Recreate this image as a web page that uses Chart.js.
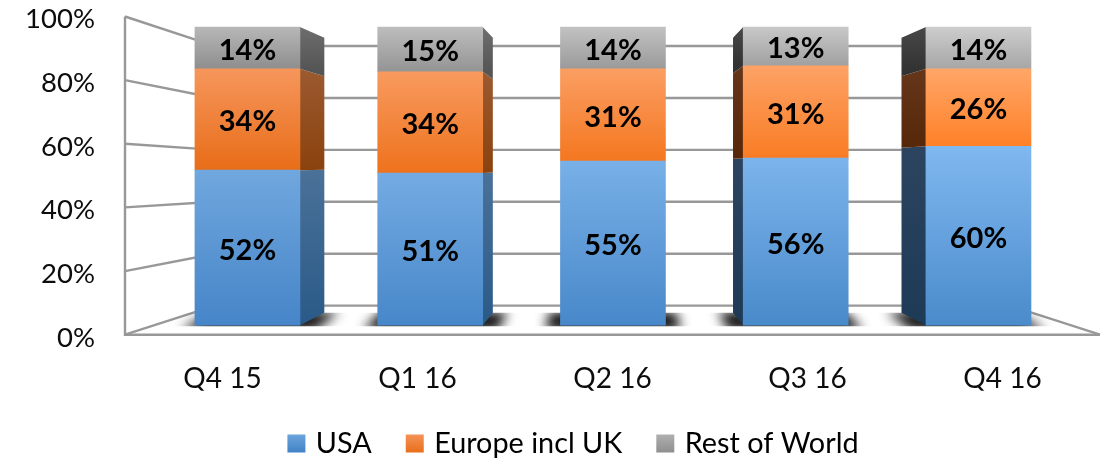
<!DOCTYPE html>
<html>
<head>
<meta charset="utf-8">
<style>html,body{margin:0;padding:0;background:#fff}#wrap{width:1107px;height:461px;position:relative}</style>
<script src="https://cdn.jsdelivr.net/npm/chart.js@4"></script>
</head>
<body>
<div id="wrap"><canvas id="c" width="1107" height="461"></canvas></div>
<script>
const categories = ['Q4 15', 'Q1 16', 'Q2 16', 'Q3 16', 'Q4 16'];
const usa = [52, 51, 55, 56, 60];
const europe = [34, 34, 31, 31, 26];
const rest = [14, 15, 14, 13, 14];
const seriesNames = ['USA', 'Europe incl UK', 'Rest of World'];
const yTickStep = 20;

const FONT = 'Lato, Carlito, "Open Sans", sans-serif';
const INK = '#0d0d0d';
const GRID = '#989898';
// Colour pairs [top, bottom] at the first and the last column; lighting drifts across the chart.
const frontFirst = [['#70a7de', '#4685c8'], ['#f6965c', '#e86d18'], ['#b7b7b7', '#8e8e8e']];
const frontLast = [['#80b8f0', '#4a8bcb'], ['#ffa668', '#ff8128'], ['#cdcdcd', '#a6a6a6']];
const sideRight = [['#4a7198', '#2a5a88'], ['#9c5a30', '#8a420e'], ['#6e6e6e', '#555555']];
const sideLeft = [['#2c445f', '#1d3a57'], ['#66361b', '#572709'], ['#484848', '#333333']];
const legendSwatch = [['#70a7de', '#4082c6'], ['#f6965c', '#e86d18'], ['#b2b2b2', '#8e8e8e']];

function mix(a, b, t) {
  const p = s => [1, 3, 5].map(i => parseInt(s.substr(i, 2), 16));
  const A = p(a), B = p(b);
  return 'rgb(' + A.map((v, i) => Math.round(v + (B[i] - v) * t)).join(',') + ')';
}
const allValues = [usa, europe, rest];

function segmentFill(series) {
  return function (c) {
    const ch = c.chart, s = ch.scales && ch.scales.yBars;
    if (c.dataIndex === undefined || !s) return frontFirst[series][0];
    const i = c.dataIndex;
    let low = 0;
    for (let k = 0; k < series; k++) low += allValues[k][i];
    const high = low + allValues[series][i];
    const g = ch.ctx.createLinearGradient(0, s.getPixelForValue(high), 0, s.getPixelForValue(low));
    const t = i / (categories.length - 1);
    g.addColorStop(0, mix(frontFirst[series][0], frontLast[series][0], t));
    g.addColorStop(1, mix(frontFirst[series][1], frontLast[series][1], t));
    return g;
  };
}

const VP = { x: 612.5, y: 165, k: 0.922 };
const project = (x, y) => [VP.x + (x - VP.x) * VP.k, VP.y + (y - VP.y) * VP.k];
const noPad = s => { s.paddingTop = 0; s.paddingBottom = 0; s.paddingLeft = 0; s.paddingRight = 0; };

const scenePlugin = {
  id: 'scene',
  afterLayout(chart) {
    const l = chart.legend;
    l.left += 25; l.right += 25;
    l.top += 0.5; l.bottom += 0.5;
  },
  beforeDatasetsDraw(chart) {
    const { ctx, scales } = chart;
    const y = scales.y, yBack = scales.yBack;
    const L = chart.chartArea.left, R = chart.chartArea.right;
    const backL = 215, backR = 1010;
    ctx.save();
    ctx.strokeStyle = GRID;
    ctx.lineWidth = 2.4;
    // walls and back grid
    y.ticks.forEach(t => {
      const f = y.getPixelForValue(t.value), b = yBack.getPixelForValue(t.value);
      ctx.beginPath();
      ctx.moveTo(L, f);
      ctx.lineTo(backL, b);
      ctx.lineTo(backR, b);
      if (t.value === 0) ctx.lineTo(R, f);
      ctx.stroke();
    });
    ctx.beginPath();
    ctx.moveTo(L, y.getPixelForValue(100));
    ctx.lineTo(L, y.getPixelForValue(0));
    ctx.lineTo(R, y.getPixelForValue(0));
    ctx.stroke();
    ctx.restore();

    // floor shadows
    const metas = chart.getSortedVisibleDatasetMetas();
    metas[0].data.forEach(el => {
      const l = el.x - el.width / 2, r = el.x + el.width / 2, b = el.base;
      const bl = project(l, b), br = project(r, b);
      ctx.save();
      ctx.beginPath();
      ctx.rect(0, br[1], chart.width, b - br[1] + 1);
      ctx.clip();
      ctx.filter = 'blur(6px)';
      ctx.fillStyle = 'rgba(15,15,15,1)';
      ctx.beginPath();
      ctx.moveTo(l - 15, b + 5);
      ctx.lineTo(r + 15, b + 5);
      ctx.lineTo(br[0] + 15, br[1] - 1);
      ctx.lineTo(bl[0] - 15, bl[1] - 1);
      ctx.closePath();
      ctx.fill();
      ctx.restore();
    });

    // side faces
    metas.forEach((meta, series) => {
      meta.data.forEach(el => {
        const l = el.x - el.width / 2, r = el.x + el.width / 2;
        let edge, cols;
        if (r < VP.x) { edge = r; cols = sideRight[series]; }
        else if (l > VP.x) { edge = l; cols = sideLeft[series]; }
        else return;
        const a = project(edge, el.y), b = project(edge, el.base);
        const g = ctx.createLinearGradient(0, el.y, 0, el.base);
        g.addColorStop(0, cols[0]);
        g.addColorStop(1, cols[1]);
        ctx.fillStyle = g;
        ctx.beginPath();
        ctx.moveTo(edge, el.y);
        ctx.lineTo(a[0], a[1]);
        ctx.lineTo(b[0], b[1]);
        ctx.lineTo(edge, el.base);
        ctx.closePath();
        ctx.fill();
      });
    });
  },
  afterDatasetsDraw(chart) {
    const { ctx } = chart;
    ctx.save();
    ctx.font = 'bold 29px ' + FONT;
    ctx.fillStyle = '#000';
    ctx.textAlign = 'center';
    ctx.textBaseline = 'middle';
    chart.getSortedVisibleDatasetMetas().forEach((meta, series) => {
      meta.data.forEach((el, i) => {
        ctx.fillText(allValues[series][i] + '%', el.x, (el.y + el.base) / 2 + 2.5);
      });
    });
    ctx.restore();
  }
};

new Chart(document.getElementById('c'), {
  type: 'bar',
  plugins: [scenePlugin],
  data: {
    labels: categories,
    datasets: allValues.map((vals, s) => ({
      label: seriesNames[s],
      xAxisID: 'xBars',
      yAxisID: 'yBars',
      data: vals.map((v, i) => ({ x: i, y: v })),
      backgroundColor: segmentFill(s),
      borderWidth: 0,
      barThickness: 105
    }))
  },
  options: {
    responsive: false,
    animation: false,
    devicePixelRatio: 1,
    layout: { padding: { top: 16.5, right: 7, left: 0, bottom: -6.5 } },
    scales: {
      x: {
        type: 'category', position: 'bottom', labels: categories, offset: true,
        grid: { display: false }, border: { display: false },
        ticks: { color: INK, font: { family: FONT, size: 28 }, padding: 19, maxRotation: 0, autoSkip: false },
        afterFit(s) { s.height = 56; noPad(s); }
      },
      xBars: { type: 'linear', position: 'bottom', display: false, stacked: true, offset: false, min: -0.670, max: 4.665, grid: { display: false }, afterFit: noPad },
      y: {
        type: 'linear', position: 'left', min: 0, max: 100,
        grid: { display: false }, border: { display: false },
        ticks: { stepSize: yTickStep, color: INK, font: { family: FONT, size: 27.5 }, padding: 22, labelOffset: 3, callback: v => v + '%' },
        afterFit(s) { s.width = 125; noPad(s); }
      },
      yBars: { type: 'linear', position: 'left', display: false, stacked: true, min: -3.188, max: 103.52, grid: { display: false }, afterFit: noPad },
      yBack: { type: 'linear', position: 'left', display: false, min: -11.18, max: 111.37, ticks: { stepSize: yTickStep }, grid: { display: false }, afterFit: noPad }
    },
    plugins: {
      tooltip: { enabled: false },
      legend: {
        position: 'bottom',
        labels: {
          color: INK,
          font: { family: FONT, size: 28.8 },
          padding: 38,
          boxWidth: 10,
          boxHeight: 10,
          generateLabels(chart) {
            return seriesNames.map((text, s) => {
              const g = chart.ctx.createLinearGradient(0, chart.height - 28, 0, chart.height - 8);
              g.addColorStop(0, legendSwatch[s][0]);
              g.addColorStop(1, legendSwatch[s][1]);
              return { text, fillStyle: g, strokeStyle: g, lineWidth: 8, datasetIndex: s };
            });
          }
        }
      }
    }
  }
});
</script>
</body>
</html>
